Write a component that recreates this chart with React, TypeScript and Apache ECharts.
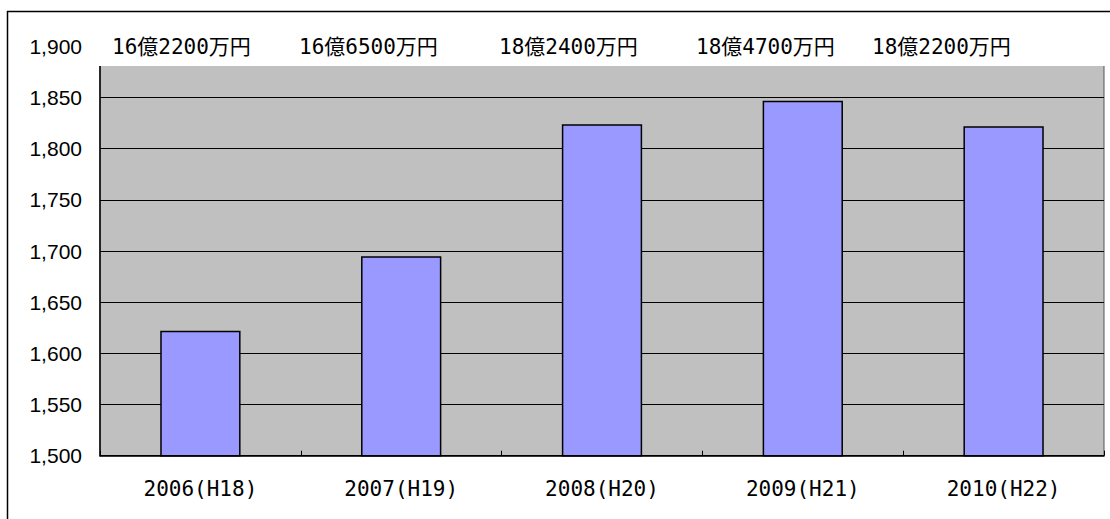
import React, { useEffect, useRef } from "react";
import * as echarts from "echarts";

const categories = ["2006(H18)", "2007(H19)", "2008(H20)", "2009(H21)", "2010(H22)"];
const values = [1622, 1695, 1824, 1847, 1822];
const amountLabels = ["16億2200万円", "16億6500万円", "18億2400万円", "18億4700万円", "18億2200万円"];
const yMin = 1500;
const yMax = 1900;
const yStep = 50;

// layout only: left edges of the amount texts in the header band
const amountLabelLeft = [112, 299, 499, 696, 872];

export default function App() {
  const ref = useRef<HTMLDivElement>(null);
  useEffect(() => {
    if (!ref.current) return;
    const chart = echarts.init(ref.current, null, { renderer: "svg" });
    const mono = "'DejaVu Sans Mono', 'Noto Sans CJK JP', monospace";
    chart.setOption({
      animation: false,
      backgroundColor: "#ffffff",
      grid: {
        left: 100,
        right: 6,
        top: 46.4,
        bottom: 63.3,
        show: true,
        backgroundColor: "#C0C0C0",
        borderColor: "#555555",
        borderWidth: 1,
        containLabel: false,
        outerBoundsMode: "none",
      },
      xAxis: {
        type: "category",
        data: categories,
        boundaryGap: true,
        axisLine: { show: true, lineStyle: { color: "#000", width: 1.5 } },
        axisTick: { show: true, inside: true, length: 5, lineStyle: { color: "#000" } },
        axisLabel: {
          margin: 23,
          fontSize: 21,
          color: "#000",
          fontFamily: mono,
        },
        splitLine: { show: false },
        z: 5,
      },
      yAxis: {
        type: "value",
        min: yMin,
        max: yMax,
        interval: yStep,
        axisLine: { show: true, lineStyle: { color: "#000", width: 1.5 } },
        axisTick: { show: false },
        axisLabel: {
          margin: 18,
          fontSize: 21,
          color: "#000",
          fontFamily: "'Liberation Sans', Arial, sans-serif",
          formatter: (v: number) => v.toLocaleString("en-US"),
        },
        splitLine: { show: true, lineStyle: { color: "#000", width: 1 } },
      },
      series: [
        {
          type: "bar",
          data: values,
          barWidth: "40%",
          itemStyle: { color: "#9999FF", borderColor: "#000", borderWidth: 1.5 },
          z: 3,
        },
      ],
      graphic: [
        {
          type: "rect",
          z: 100,
          shape: { x: 98, y: 13, width: 1012, height: 53 },
          style: { fill: "#ffffff" },
        },
        ...amountLabels.map((t, i) => ({
          type: "text",
          z: 101,
          x: amountLabelLeft[i],
          y: 47,
          style: {
            text: t,
            fill: "#000",
            fontSize: 21,
            fontFamily: mono,
            textAlign: "left",
            textVerticalAlign: "middle",
          },
        })),
        {
          type: "rect",
          z: 102,
          shape: { x: 7.5, y: 11.5, width: 1110, height: 520 },
          style: { fill: "none", stroke: "#000", lineWidth: 1.5 },
        },
      ],
    });
    return () => chart.dispose();
  }, []);
  return (
    <div
      ref={ref}
      style={{ position: "fixed", left: 0, top: 0, width: 1110, height: 519 }}
    />
  );
}
